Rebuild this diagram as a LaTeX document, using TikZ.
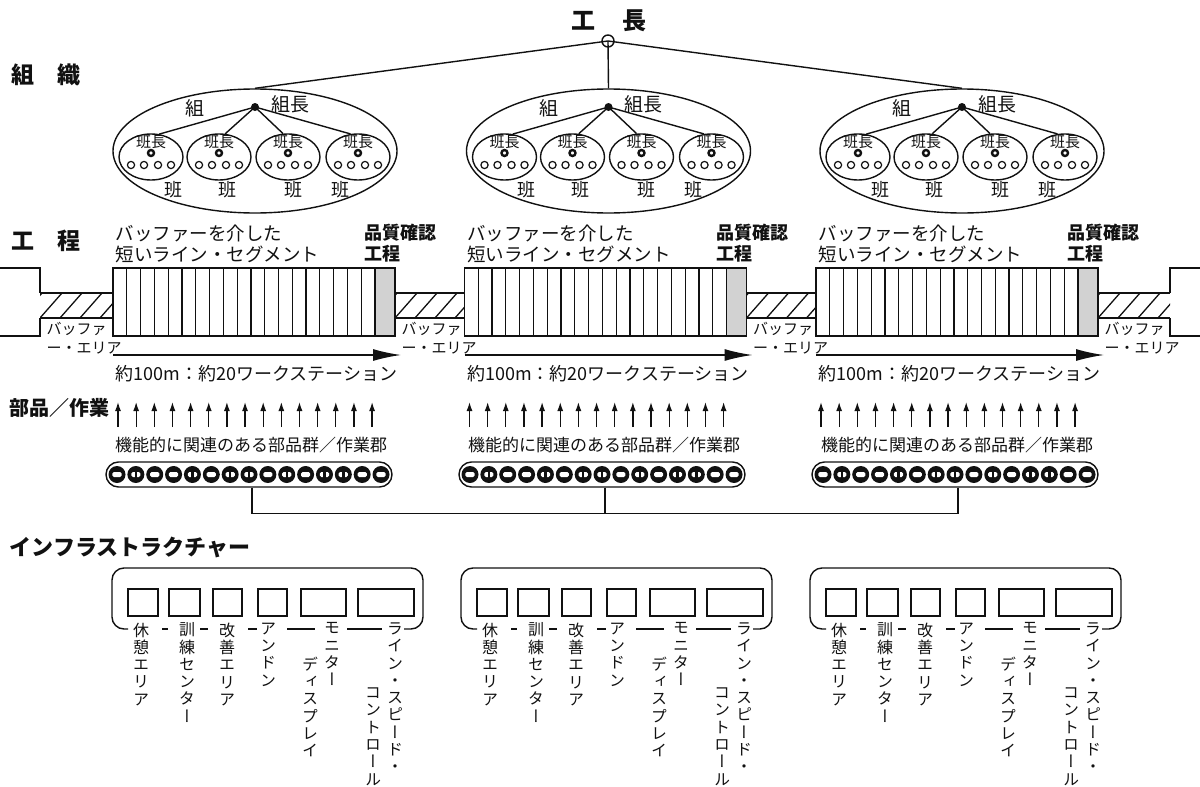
\documentclass[tikz,border=0pt]{standalone}
\usepackage{fontspec}
\setmainfont{Noto Sans CJK JP}
\newfontfamily\vertjp[RawFeature=+vert]{Noto Sans CJK JP}
\usetikzlibrary{arrows.meta,shapes.geometric,positioning}
\definecolor{lnInk} {HTML}{111111}
\definecolor{lnDots}{HTML}{D2D2D2}

\tikzset{
  txt/.style={inner sep=0pt,font=\fontsize{#1}{#1}\selectfont},
  txt/.default=17,
  btxt/.style={inner sep=0pt,font=\fontsize{#1}{#1}\selectfont\bfseries},
  btxt/.default=18,
  sect/.style={inner sep=0pt,anchor=west,font=\fontsize{#1}{#1}\selectfont\bfseries},
  sect/.default=23,
  vlbl/.style={inner sep=0pt,anchor=north,align=center,
               font=\vertjp\fontsize{16}{17.3}\selectfont},
  kumi/.style={draw,ellipse,minimum width=284pt,minimum height=124pt,inner sep=0pt},
  han/.style={draw,ellipse,minimum width=64pt,minimum height=46pt,inner sep=0pt},
  grp/.style={draw,rounded corners=12.5pt,minimum width=286pt,minimum height=25pt,inner sep=0pt},
  upar/.style={-{Latex[length=9pt,width=6pt]},line width=1.3pt},
  longar/.style={-{Latex[length=28pt,width=12pt]},line width=1.5pt},
}

\begin{document}
\begin{tikzpicture}[x=1pt,y=-1pt,line width=1.4pt,color=lnInk]
\useasboundingbox (0,0) rectangle (1200,787);

% section titles
\node[sect] (lblOrg)   at (11,75)  {組　織};
\node[sect] (lblProc)  at (11,241) {工　程};
\node[sect=20] (lblParts) at (9,408)  {部品／作業};
\node[sect=22] (lblInfra) at (9,547)  {インフラストラクチャー};

% foreman
\node[btxt=24] (bossLbl) at (609,21) {工\hspace{4pt}　長};
\coordinate (boss) at (608,41);

% organisation
\foreach \i in {0,1,2} {
  \pgfmathsetmacro\cx{255+353.5*\i}
  \node[kumi] (kumi\i) at (\cx,151) {};
  \draw (boss) -- (kumi\i.north);
  \coordinate (kumicho\i) at (\cx,107);
  \node[txt=19] (kumiLbl\i) at (\cx-60,108) {組};
  \node[txt=19] (kumichoLbl\i) at (\cx+35,104) {組長};
  \foreach \j/\dx/\a in {1/-104/70,2/-36/75,3/33/102,4/103/108} {
    \node[han] (han\i\j) at (\cx+\dx,157) {};
    \draw (kumicho\i) -- (han\i\j.\a);
    \node[txt=15] (hanchoLbl\i\j) at (\cx+\dx,142) {班長};
    \draw[line width=2.4pt] (\cx+\dx,153) circle (3);
    \foreach \m in {-20,-7,7,20} \draw[line width=1.2pt] (\cx+\dx+\m,165) circle (3.6);
  }
  \fill (kumicho\i) circle (4);
  \foreach \j/\dx in {1/-82,2/-28,3/38,4/85}
    \node[txt=18] (hanLbl\i\j) at (\cx+\dx,190) {班};
}
\draw (boss) circle (6);

% process line
\foreach \i in {0,1,2} {
  \pgfmathsetmacro\sx{113+351.5*\i}
  \node[txt=18.5,anchor=west] (segTxtA\i) at (\sx+2,233) {バッファーを介した};
  \node[txt=18.5,anchor=west] (segTxtB\i) at (\sx+2,254) {短いライン・セグメント};
  \node[btxt,anchor=west] (qaTxtA\i) at (\sx+251,233) {品質確認};
  \node[btxt,anchor=west] (qaTxtB\i) at (\sx+251,254) {工程};
  \fill[lnDots] (\sx+262,268) rectangle (\sx+282,336);
  \draw (\sx,268) rectangle (\sx+282,336);
  \foreach \k in {1,...,19} \draw[line width=1.2pt] (\sx+\k*13.79,268) -- ++(0,68);
  \coordinate (runA\i) at (\sx,355);
  \coordinate (runB\i) at (\sx+288,355);
  \draw[longar] (runA\i) -- (runB\i);
  \node[txt=18,anchor=west] (dist\i) at (\sx+2,374) {約100m：約20ワークステーション};
}
\foreach \bx/\ex [count=\n] in {40/113,395/464.5,746.5/816,1098/1170} {
  \begin{scope}
    \clip (\bx,293) rectangle (\ex,318);
    \foreach \h in {-20,0,...,80} \draw[line width=1.3pt] (\bx+\h,318) -- ++(22,-25);
  \end{scope}
  \draw (\bx,293) -- (\ex,293) (\bx,318) -- (\ex,318);
  \node[txt=15,anchor=west] (bufA\n) at (\bx+6,329) {バッファ};
  \node[txt=15,anchor=west] (bufB\n) at (\bx+6,348) {ー・エリア};
}
\draw (0,268) -| (40,293) (40,318) |- (0,336);
\draw (1200,268) -| (1170,293) (1170,318) |- (1200,336);

% parts / work
\foreach \i in {0,1,2} {
  \pgfmathsetmacro\sx{113+351.5*\i}
  \foreach \k in {0,...,14} \draw[upar] (\sx+5+\k*18.15,427) -- ++(0,-25);
  \pgfmathsetmacro\px{106+353*\i}
  \node[txt=17] (grpTxt\i) at (\px+145,445) {機能的に関連のある部品群／作業郡};
  \node[grp] (grp\i) at (\px+143,474.5) {};
  \foreach \k [count=\c] in {0,1,0,0,1,0,1,1,0,1,0,1,1,0,0} {
    \pgfmathsetmacro\qx{\px+11+(\c-1)*18.86}
    \fill (\qx,474.5) circle (8.5);
    \fill[white,rounded corners=1.5pt] (\qx-4.6,472) rectangle (\qx+4.6,477);
    \ifnum\k=1 \fill (\qx-1.2,471) rectangle (\qx+1.2,478); \fi
  }
  \draw ([xshift=3pt]grp\i.south) -- ++(0,26) coordinate (bus\i);
}
\draw (bus0) -- (bus2);

% infrastructure
\foreach \i in {0,1,2} {
  \pgfmathsetmacro\ix{112+349*\i}
  \draw[rounded corners=12pt] (\ix+16,629) -- (\ix,629) -- (\ix,568)
        -- (\ix+311,568) -- (\ix+311,629) -- (\ix+292,629);
  \foreach \l/\r in {16/46,57/88,101/130,146/175,189/234,246/302}
    \draw (\ix+\l,589) rectangle (\ix+\r,616);
  \foreach \l/\r in {50/56,88/96,136/145,175/203,235/270}
    \draw (\ix+\l,629) -- (\ix+\r,629);
  \node[vlbl] (rest\i)   at (\ix+29,622)  {休\\憩\\エ\\リ\\ア};
  \node[vlbl] (train\i)  at (\ix+75,622)  {訓\\練\\セ\\ン\\タ\\ー};
  \node[vlbl] (kaizen\i) at (\ix+115,622) {改\\善\\エ\\リ\\ア};
  \node[vlbl] (andon\i)  at (\ix+156,622) {ア\\ン\\ド\\ン};
  \node[vlbl] (monA\i)   at (\ix+220,622) {モ\\ニ\\タ\\ー};
  \node[vlbl] (monB\i)   at (\ix+198,656) {デ\\ィ\\ス\\プ\\レ\\イ};
  \node[vlbl] (speedA\i) at (\ix+283,622) {ラ\\イ\\ン\\・\\ス\\ピ\\ー\\ド\\・};
  \node[vlbl] (speedB\i) at (\ix+261,687) {コ\\ン\\ト\\ロ\\ー\\ル};
}
\end{tikzpicture}
\end{document}
